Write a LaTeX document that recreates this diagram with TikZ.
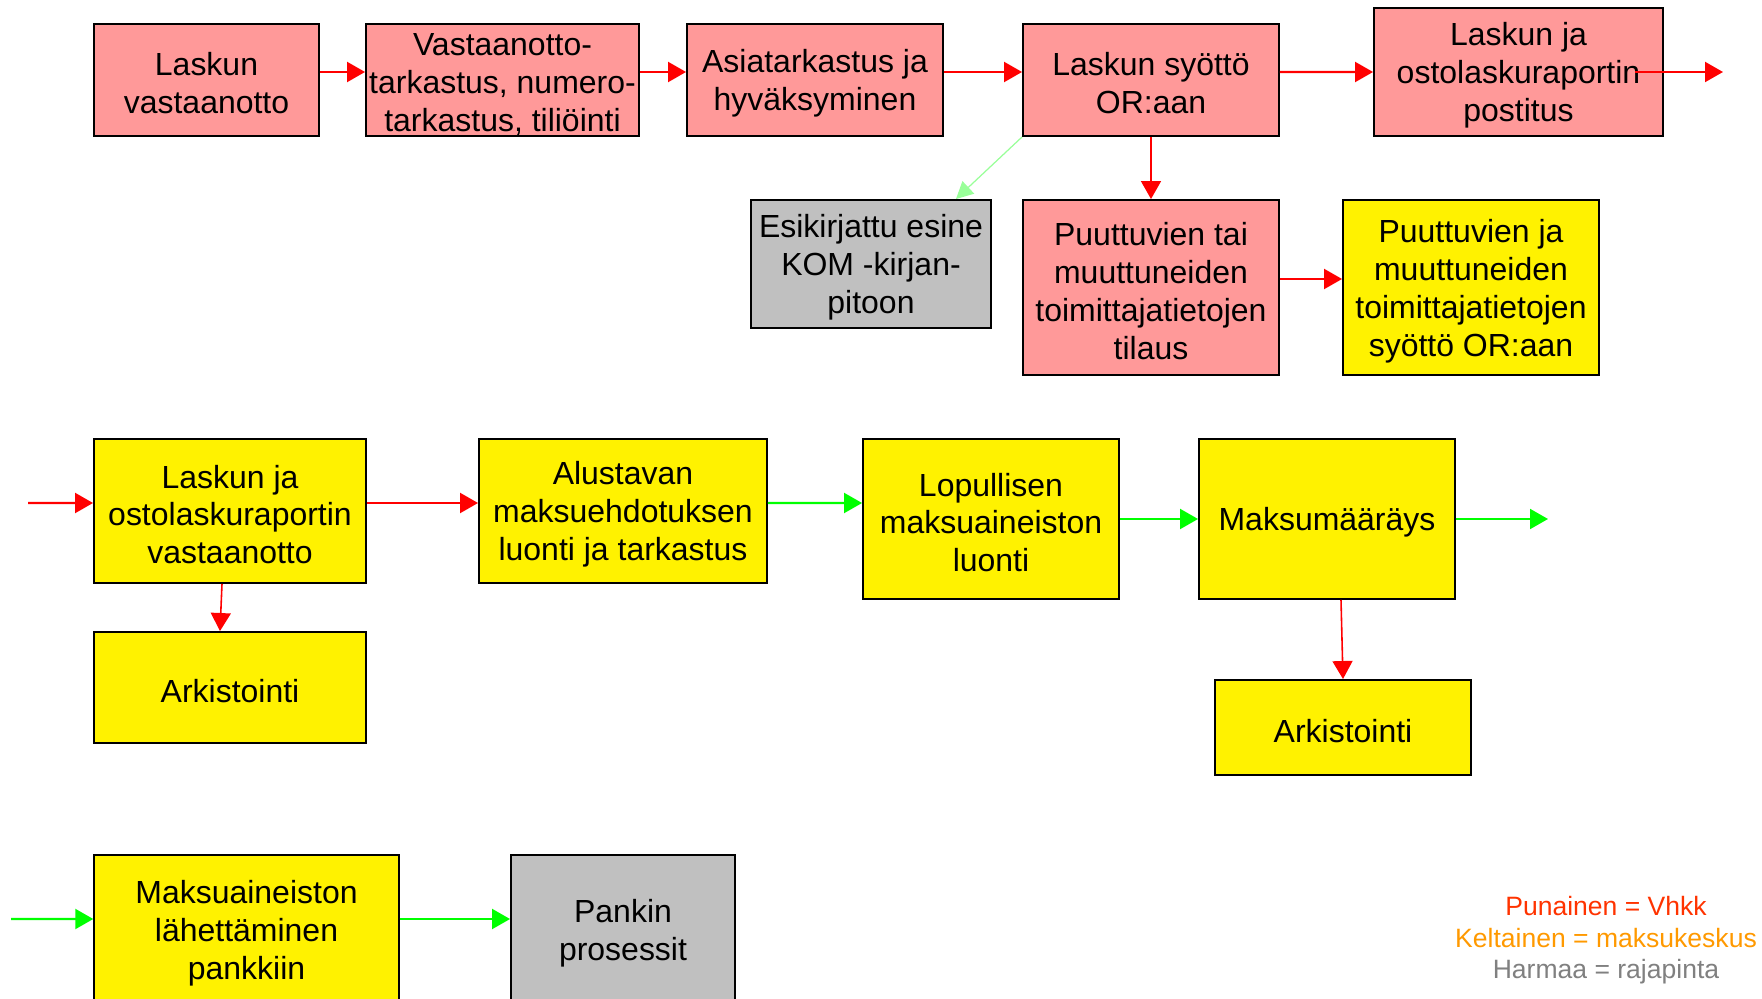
\documentclass[tikz,border=0pt]{standalone}
\usepackage{fontspec}
\setmainfont{Liberation Sans}
\usetikzlibrary{arrows.meta}
\definecolor{pinkfill}{HTML}{FF9999}
\definecolor{grayfill}{HTML}{C0C0C0}
\definecolor{arrgreen}{HTML}{00FF00}
\definecolor{lightgreen}{HTML}{99FF99}
\definecolor{legred}{HTML}{FF3300}
\definecolor{legorange}{HTML}{FF9900}
\definecolor{leggray}{HTML}{808080}
\newcommand{\boxtop}{\rule{0pt}{17.2pt}}
\begin{document}
\begin{tikzpicture}[
  box/.style={draw=black, line width=1.1pt, align=center, inner sep=0pt,
    font=\fontsize{18.2}{21.6}\selectfont},
  pinkbox/.style={box, fill=pinkfill},
  yellowbox/.style={box, fill=yellow},
  graybox/.style={box, fill=grayfill},
  redarr/.style={draw=red, line width=1.2pt, -{Triangle[length=0.36cm,width=0.4cm]}},
  greenarr/.style={draw=arrgreen, line width=1.2pt, -{Triangle[length=0.36cm,width=0.4cm]}},
  lgreenarr/.style={draw=lightgreen, line width=0.7pt, -{Triangle[length=0.34cm,width=0.34cm]}}
]
%\draw[step=1cm,gray,very thin] (0,0) grid (35,20);
\useasboundingbox (0,0) rectangle (35.24,19.96);

% Vhkk row
\node[pinkbox, minimum width=4.5cm, minimum height=2.24cm] (b1) at (4.13,18.36) {\boxtop Laskun\\vastaanotto};
\node[pinkbox, minimum width=5.46cm, minimum height=2.24cm] (b2) at (10.05,18.36) {\boxtop Vastaanotto-\\tarkastus, numero-\\tarkastus, tiliöinti};
\node[pinkbox, minimum width=5.12cm, minimum height=2.24cm] (b3) at (16.30,18.36) {\boxtop Asiatarkastus ja\\hyväksyminen};
\node[pinkbox, minimum width=5.12cm, minimum height=2.24cm] (b4) at (23.02,18.36) {\boxtop Laskun syöttö\\OR:aan};
\node[pinkbox, minimum width=5.78cm, minimum height=2.56cm] (b5) at (30.37,18.52) {\boxtop Laskun ja\\ostolaskuraportin\\postitus};
\node[graybox, minimum width=4.8cm, minimum height=2.56cm] (b6) at (17.42,14.68) {\boxtop Esikirjattu esine\\KOM -kirjan-\\pitoon};
\node[pinkbox, minimum width=5.12cm, minimum height=3.5cm] (b7) at (23.02,14.21) {\boxtop Puuttuvien tai\\muuttuneiden\\toimittajatietojen\\tilaus};
\node[yellowbox, minimum width=5.12cm, minimum height=3.5cm] (b8) at (29.42,14.21) {\boxtop Puuttuvien ja\\muuttuneiden\\toimittajatietojen\\syöttö OR:aan};

\coordinate (b5out) at (34.46,18.52);
\draw[redarr] ([yshift=0.16cm]b1.east) -- ([yshift=0.16cm]b2.west);
\draw[redarr] ([yshift=0.16cm]b2.east) -- ([yshift=0.16cm]b3.west);
\draw[redarr] ([yshift=0.16cm]b3.east) -- ([yshift=0.16cm]b4.west);
\draw[redarr] ([yshift=0.16cm]b4.east) -- (b5.west);
\draw[redarr] ([xshift=2.33cm]b5.center) -- (b5out);
\draw[lgreenarr] (b4.south west) -- ([xshift=-0.72cm]b6.north east);
\draw[redarr, line width=0.9pt] (b4.south) -- (b7.north);
\draw[redarr] ([yshift=0.17cm]b7.east) -- ([yshift=0.17cm]b8.west);

% maksukeskus row
\node[yellowbox, minimum width=5.44cm, minimum height=2.88cm] (b9) at (4.60,9.74) {\boxtop Laskun ja\\ostolaskuraportin\\vastaanotto};
\node[yellowbox, minimum width=5.76cm, minimum height=2.88cm] (b10) at (12.46,9.74) {\boxtop Alustavan\\maksuehdotuksen\\luonti ja tarkastus};
\node[yellowbox, minimum width=5.12cm, minimum height=3.2cm] (b11) at (19.82,9.58) {\boxtop Lopullisen\\maksuaineiston\\luonti};
\node[yellowbox, minimum width=5.12cm, minimum height=3.2cm] (b12) at (26.54,9.58) {\boxtop Maksumääräys};
\node[yellowbox, minimum width=5.44cm, minimum height=2.22cm] (b13) at (4.60,6.21) {\boxtop Arkistointi};
\node[yellowbox, minimum width=5.12cm, minimum height=1.9cm] (b14) at (26.86,5.41) {\boxtop Arkistointi};

\coordinate (b9in) at (0.56,9.9);
\coordinate (b12out) at (30.96,9.58);
\draw[redarr] (b9in) -- ([yshift=0.16cm]b9.west);
\draw[redarr] ([yshift=0.16cm]b9.east) -- ([yshift=0.16cm]b10.west);
\draw[greenarr] ([yshift=0.16cm]b10.east) -- ([yshift=0.32cm]b11.west);
\draw[greenarr] (b11.east) -- (b12.west);
\draw[greenarr] (b12.east) -- (b12out);
\draw[redarr, line width=0.9pt] ([xshift=-0.16cm]b9.south) -- ([xshift=-0.2cm]b13.north);
\draw[redarr, line width=0.9pt] ([xshift=0.28cm]b12.south) -- (b14.north);

% pankki row
\node[yellowbox, minimum width=6.09cm, minimum height=3cm] (b15) at (4.93,1.36) {\boxtop Maksuaineiston\\lähettäminen\\pankkiin};
\node[graybox, minimum width=4.48cm, minimum height=3cm] (b16) at (12.46,1.36) {\boxtop Pankin\\prosessit};

\coordinate (b15in) at (0.22,1.58);
\draw[greenarr] (b15in) -- ([yshift=0.22cm]b15.west);
\draw[greenarr] ([yshift=0.22cm]b15.east) -- ([yshift=0.22cm]b16.west);

% selite
\node[align=center, font=\fontsize{15.1}{17.9}\selectfont] (legend) at (32.12,1.15)
  {\textcolor{legred}{Punainen = Vhkk}\\\textcolor{legorange}{Keltainen = maksukeskus}\\\textcolor{leggray}{Harmaa = rajapinta}};
\end{tikzpicture}
\end{document}
